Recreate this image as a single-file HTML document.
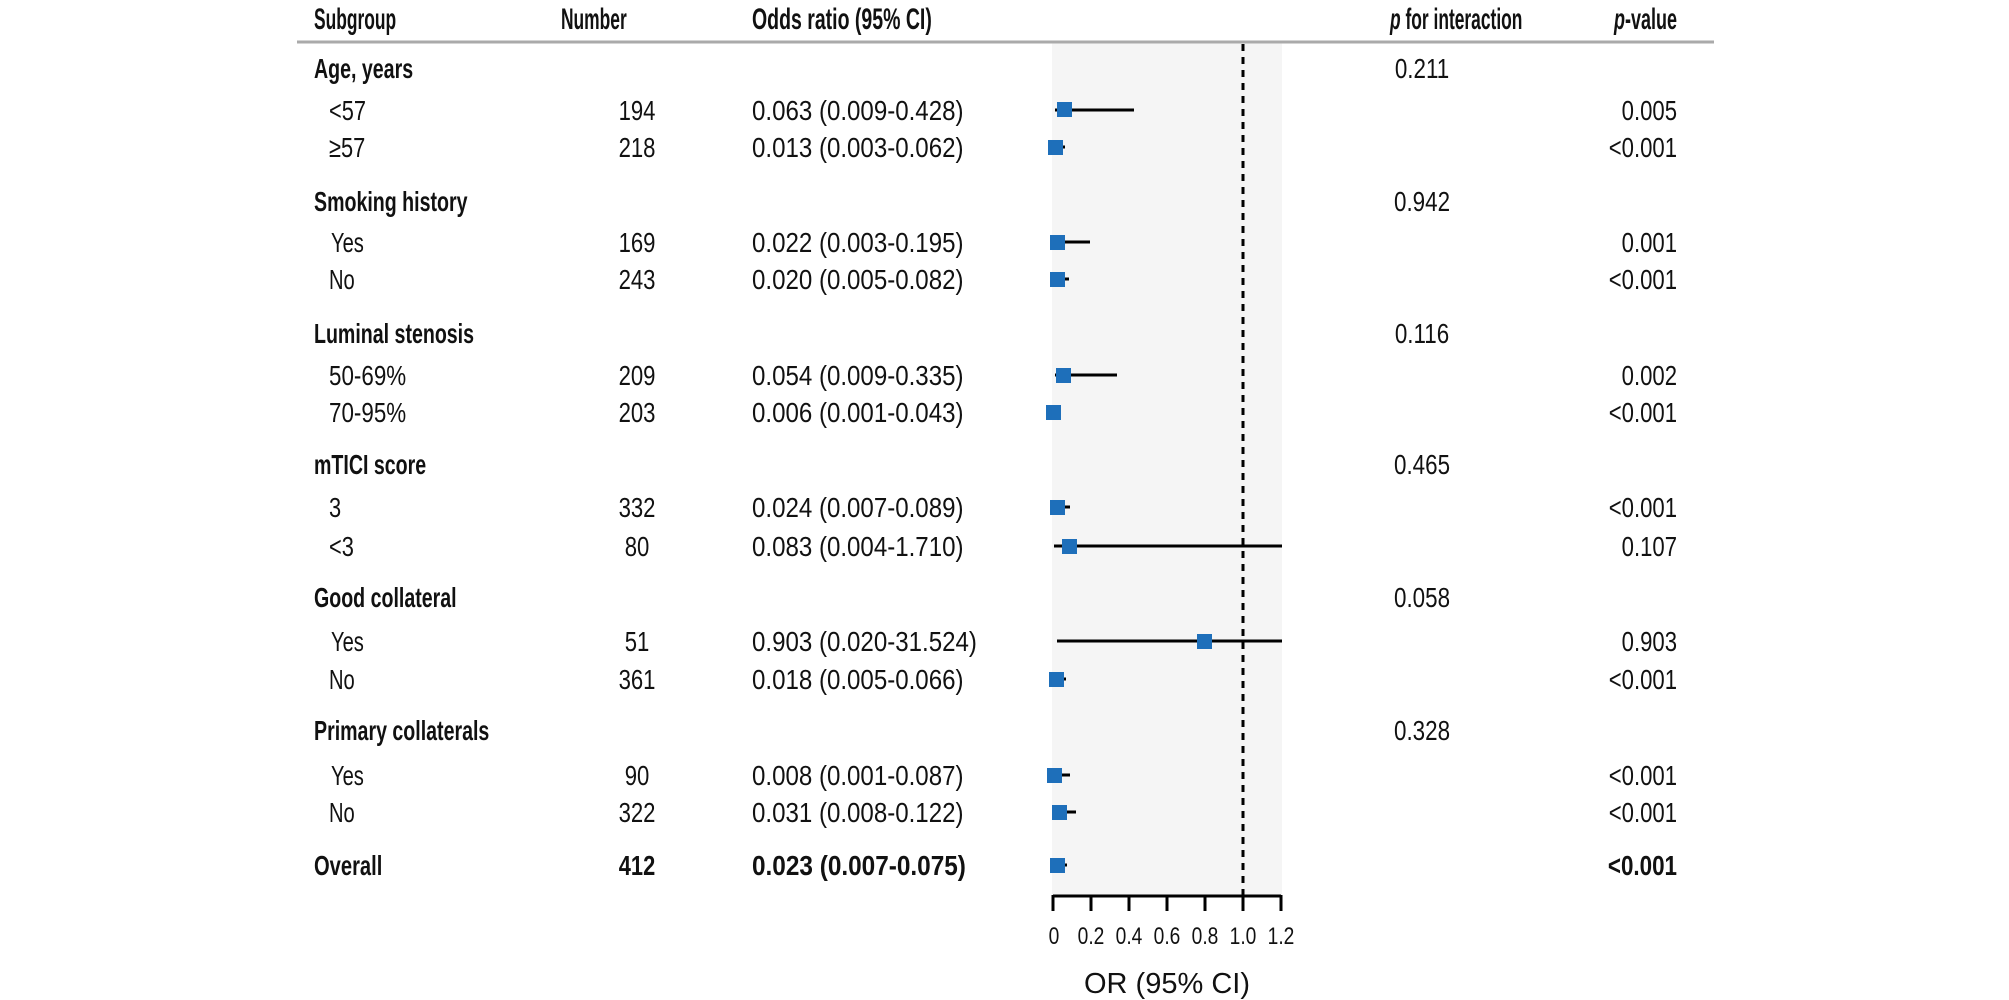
<!DOCTYPE html>
<html><head><meta charset="utf-8"><style>
html,body{margin:0;padding:0;background:#fff;}
svg{display:block;font-family:"Liberation Sans",sans-serif;}
.t{font-size:28px;fill:#111;}
.h{font-size:30px;fill:#111;font-weight:bold;}
.b{font-weight:bold;}
</style></head><body>
<svg width="2009" height="1000" viewBox="0 0 2009 1000" xmlns="http://www.w3.org/2000/svg">
<rect x="1052" y="42" width="230" height="853" fill="#f5f5f5"/>
<line x1="297" y1="42" x2="1714" y2="42" stroke="#aaa" stroke-width="3"/>
<line x1="1243" y1="44" x2="1243" y2="895" stroke="#000" stroke-width="3" stroke-dasharray="7,6"/>
<g class="h">
<text transform="translate(314,29) scale(0.58,1)">Subgroup</text>
<text transform="translate(561,29) scale(0.58,1)">Number</text>
<text transform="translate(752,29) scale(0.65,1)">Odds ratio (95% CI)</text>
<text transform="translate(1390,29) scale(0.58,1)"><tspan font-style="italic">p</tspan> for interaction</text>
<text transform="translate(1677,29) scale(0.6,1)" text-anchor="end"><tspan font-style="italic">p</tspan>-value</text>
</g>
<g class="t">
<g class="b">
<text transform="translate(314,78) scale(0.70,1)">Age, years</text>
<text transform="translate(314,211) scale(0.70,1)">Smoking history</text>
<text transform="translate(314,343) scale(0.70,1)">Luminal stenosis</text>
<text transform="translate(314,474) scale(0.70,1)">mTICI score</text>
<text transform="translate(314,607) scale(0.70,1)">Good collateral</text>
<text transform="translate(314,740) scale(0.70,1)">Primary collaterals</text>
<text transform="translate(314,875) scale(0.72,1)">Overall</text>
<text transform="translate(637,875) scale(0.78,1)" text-anchor="middle">412</text>
<text transform="translate(752,875) scale(0.87,1)">0.023 (0.007-0.075)</text>
<text transform="translate(1677,875) scale(0.8,1)" text-anchor="end">&lt;0.001</text>
</g>
<g text-anchor="middle">
<text transform="translate(1422,78) scale(0.8,1)">0.211</text>
<text transform="translate(1422,211) scale(0.8,1)">0.942</text>
<text transform="translate(1422,343) scale(0.8,1)">0.116</text>
<text transform="translate(1422,474) scale(0.8,1)">0.465</text>
<text transform="translate(1422,607) scale(0.8,1)">0.058</text>
<text transform="translate(1422,740) scale(0.8,1)">0.328</text>
</g>
<text transform="translate(329,120) scale(0.78,1)">&lt;57</text>
<text transform="translate(329,157) scale(0.78,1)">≥57</text>
<text transform="translate(331,252) scale(0.72,1)">Yes</text>
<text transform="translate(329,289) scale(0.72,1)">No</text>
<text transform="translate(329,385) scale(0.8,1)">50-69%</text>
<text transform="translate(329,422) scale(0.8,1)">70-95%</text>
<text transform="translate(329,517) scale(0.78,1)">3</text>
<text transform="translate(329,556) scale(0.78,1)">&lt;3</text>
<text transform="translate(331,651) scale(0.72,1)">Yes</text>
<text transform="translate(329,689) scale(0.72,1)">No</text>
<text transform="translate(331,785) scale(0.72,1)">Yes</text>
<text transform="translate(329,822) scale(0.72,1)">No</text>
<g text-anchor="middle">
<text transform="translate(637,120) scale(0.79,1)">194</text>
<text transform="translate(637,157) scale(0.79,1)">218</text>
<text transform="translate(637,252) scale(0.79,1)">169</text>
<text transform="translate(637,289) scale(0.79,1)">243</text>
<text transform="translate(637,385) scale(0.79,1)">209</text>
<text transform="translate(637,422) scale(0.79,1)">203</text>
<text transform="translate(637,517) scale(0.79,1)">332</text>
<text transform="translate(637,556) scale(0.79,1)">80</text>
<text transform="translate(637,651) scale(0.79,1)">51</text>
<text transform="translate(637,689) scale(0.79,1)">361</text>
<text transform="translate(637,785) scale(0.79,1)">90</text>
<text transform="translate(637,822) scale(0.79,1)">322</text>
</g>
<g>
<text transform="translate(752,120) scale(0.86,1)">0.063 (0.009-0.428)</text>
<text transform="translate(752,157) scale(0.86,1)">0.013 (0.003-0.062)</text>
<text transform="translate(752,252) scale(0.86,1)">0.022 (0.003-0.195)</text>
<text transform="translate(752,289) scale(0.86,1)">0.020 (0.005-0.082)</text>
<text transform="translate(752,385) scale(0.86,1)">0.054 (0.009-0.335)</text>
<text transform="translate(752,422) scale(0.86,1)">0.006 (0.001-0.043)</text>
<text transform="translate(752,517) scale(0.86,1)">0.024 (0.007-0.089)</text>
<text transform="translate(752,556) scale(0.86,1)">0.083 (0.004-1.710)</text>
<text transform="translate(752,651) scale(0.86,1)">0.903 (0.020-31.524)</text>
<text transform="translate(752,689) scale(0.86,1)">0.018 (0.005-0.066)</text>
<text transform="translate(752,785) scale(0.86,1)">0.008 (0.001-0.087)</text>
<text transform="translate(752,822) scale(0.86,1)">0.031 (0.008-0.122)</text>
</g>
<g text-anchor="end">
<text transform="translate(1677,120) scale(0.79,1)">0.005</text>
<text transform="translate(1677,157) scale(0.79,1)">&lt;0.001</text>
<text transform="translate(1677,252) scale(0.79,1)">0.001</text>
<text transform="translate(1677,289) scale(0.79,1)">&lt;0.001</text>
<text transform="translate(1677,385) scale(0.79,1)">0.002</text>
<text transform="translate(1677,422) scale(0.79,1)">&lt;0.001</text>
<text transform="translate(1677,517) scale(0.79,1)">&lt;0.001</text>
<text transform="translate(1677,556) scale(0.79,1)">0.107</text>
<text transform="translate(1677,651) scale(0.79,1)">0.903</text>
<text transform="translate(1677,689) scale(0.79,1)">&lt;0.001</text>
<text transform="translate(1677,785) scale(0.79,1)">&lt;0.001</text>
<text transform="translate(1677,822) scale(0.79,1)">&lt;0.001</text>
</g>
</g>
<g stroke="#000" stroke-width="3">
<line x1="1055" y1="110" x2="1134" y2="110"/>
<line x1="1054" y1="147" x2="1065" y2="147"/>
<line x1="1054" y1="242" x2="1090" y2="242"/>
<line x1="1054" y1="279" x2="1069" y2="279"/>
<line x1="1055" y1="375" x2="1117" y2="375"/>
<line x1="1053" y1="412" x2="1061" y2="412"/>
<line x1="1054" y1="507" x2="1070" y2="507"/>
<line x1="1054" y1="546" x2="1282" y2="546"/>
<line x1="1057" y1="641" x2="1282" y2="641"/>
<line x1="1054" y1="679" x2="1066" y2="679"/>
<line x1="1053" y1="775" x2="1070" y2="775"/>
<line x1="1055" y1="812" x2="1076" y2="812"/>
<line x1="1054" y1="865" x2="1067" y2="865"/>
</g>
<g fill="#1e6fba">
<rect x="1057" y="102" width="15" height="15"/>
<rect x="1048" y="140" width="15" height="15"/>
<rect x="1050" y="235" width="15" height="15"/>
<rect x="1050" y="272" width="15" height="15"/>
<rect x="1056" y="368" width="15" height="15"/>
<rect x="1046" y="405" width="15" height="15"/>
<rect x="1050" y="500" width="15" height="15"/>
<rect x="1062" y="539" width="15" height="15"/>
<rect x="1197" y="634" width="15" height="15"/>
<rect x="1049" y="672" width="15" height="15"/>
<rect x="1047" y="768" width="15" height="15"/>
<rect x="1052" y="805" width="15" height="15"/>
<rect x="1050" y="858" width="15" height="15"/>
</g>
<g stroke="#000" stroke-width="3">
<line x1="1053" y1="896" x2="1281" y2="896"/>
<line x1="1053" y1="895" x2="1053" y2="911"/>
<line x1="1091" y1="895" x2="1091" y2="911"/>
<line x1="1129" y1="895" x2="1129" y2="911"/>
<line x1="1167" y1="895" x2="1167" y2="911"/>
<line x1="1205" y1="895" x2="1205" y2="911"/>
<line x1="1243" y1="895" x2="1243" y2="911"/>
<line x1="1281" y1="895" x2="1281" y2="911"/>
</g>
<g font-size="24" fill="#111" text-anchor="middle">
<text transform="translate(1054,944) scale(0.8,1)">0</text>
<text transform="translate(1091,944) scale(0.8,1)">0.2</text>
<text transform="translate(1129,944) scale(0.8,1)">0.4</text>
<text transform="translate(1167,944) scale(0.8,1)">0.6</text>
<text transform="translate(1205,944) scale(0.8,1)">0.8</text>
<text transform="translate(1243,944) scale(0.8,1)">1.0</text>
<text transform="translate(1281,944) scale(0.8,1)">1.2</text>
</g>
<text x="1167" y="993" font-size="29" fill="#111" text-anchor="middle">OR (95% CI)</text>
</svg>
</body></html>
